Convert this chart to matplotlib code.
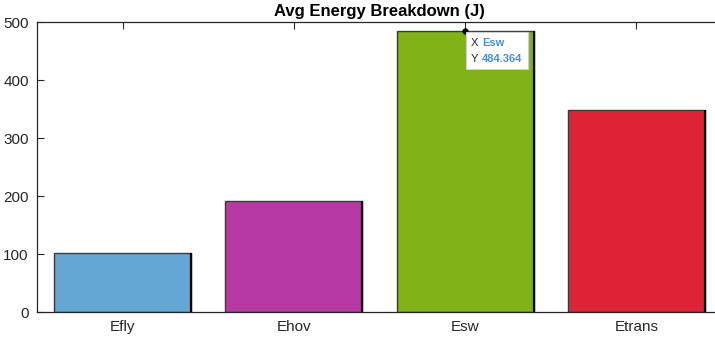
import numpy as np
import matplotlib.pyplot as plt
from matplotlib.offsetbox import TextArea, HPacker, VPacker, AnnotationBbox

plt.rcParams['font.family'] = ['Liberation Sans', 'DejaVu Sans']

# average energy per component (J)
labels = ['Efly', 'Ehov', 'Esw', 'Etrans']
energy = [101.0, 192.0, 484.364, 348.0]
colors = ['#64a7d4', '#b73aa4', '#7fb217', '#df2336']

x = np.arange(1, len(labels) + 1)
width = 0.8

fig = plt.figure(figsize=(7.15, 3.38), dpi=100)
ax = fig.add_axes([0.0517, 0.0769, 0.958, 0.858])

ax.bar(x, energy, width=width, color=colors, edgecolor='#3a3a3a', linewidth=1.0, zorder=2)
# darker shading on the right edge of each bar
ax.vlines(x + width / 2, 0, energy, color='black', linewidth=1.6, zorder=3)

ax.set_xlim(0.5, 4.5)
ax.set_ylim(0, 500)
ax.set_yticks(np.arange(0, 501, 100))
ax.set_xticks(x)
ax.set_xticklabels(labels)
ax.tick_params(direction='in', length=5, width=0.8, top=True, right=True,
               labelsize=11, colors='#262626', pad=6)
for s in ax.spines.values():
    s.set_color('#262626')
    s.set_linewidth(0.9)
ax.set_title('Avg Energy Breakdown (J)', fontsize=12, fontweight='bold', pad=4)

# data tip on the tallest bar
i = int(np.argmax(energy))
ax.plot(x[i], energy[i], 'o', color='black', markersize=3.5, zorder=5, clip_on=False)
tip_font = dict(fontsize=8)
row1 = HPacker(children=[TextArea('X ', textprops=dict(color='#262626', **tip_font)),
                         TextArea(labels[i], textprops=dict(color='#4a8fd6', fontweight='bold', **tip_font))],
               pad=0, sep=0)
row2 = HPacker(children=[TextArea('Y ', textprops=dict(color='#262626', **tip_font)),
                         TextArea(f'{energy[i]:g}', textprops=dict(color='#4a8fd6', fontweight='bold', **tip_font))],
               pad=0, sep=0)
box = VPacker(children=[row1, row2], pad=0, sep=4, align='left')
ab = AnnotationBbox(box, (x[i], energy[i]), xybox=(4.5, -5), xycoords='data',
                    boxcoords='offset points', box_alignment=(0, 1),
                    frameon=True, pad=0.4,
                    bboxprops=dict(fc='white', ec='#cfcfcf', lw=0.8), zorder=6)
ax.add_artist(ab)

fig.savefig('out.png', dpi=100)
